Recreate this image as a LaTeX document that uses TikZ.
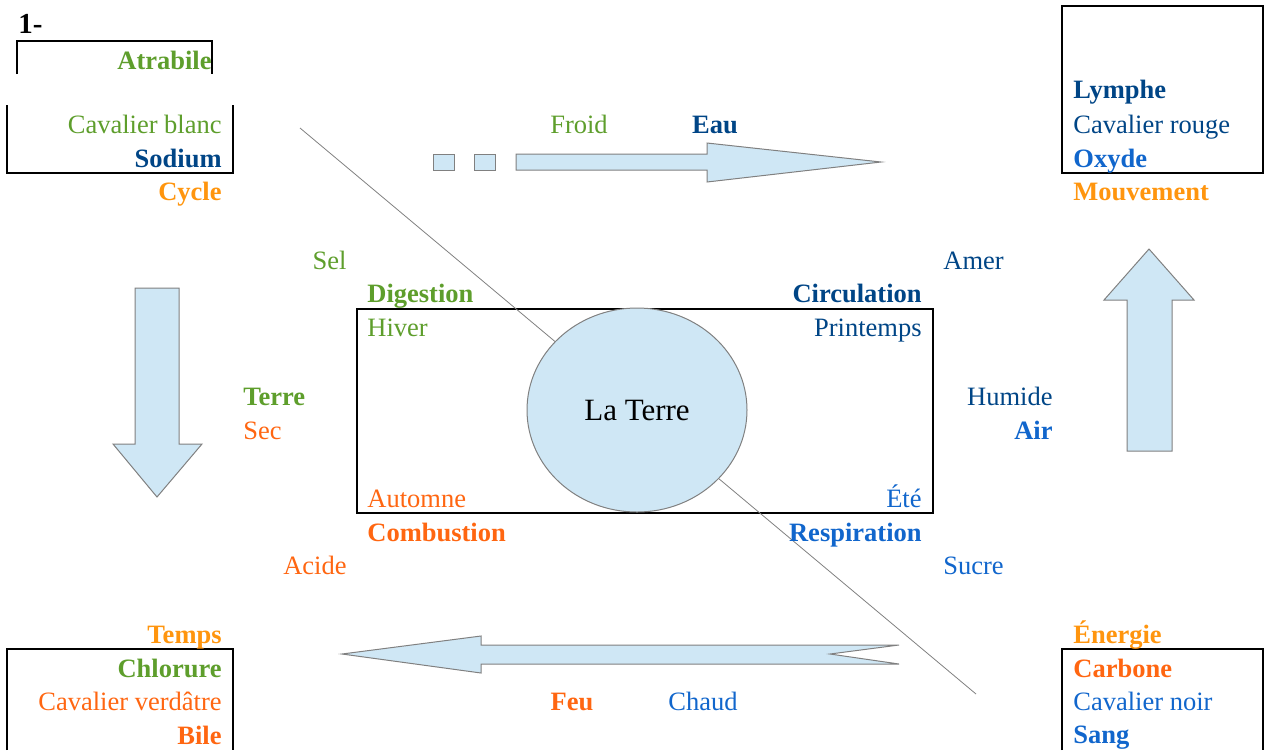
\documentclass[tikz,border=0pt]{standalone}
\usepackage{fontspec}
\setmainfont{Liberation Serif}
\usepackage{tikz}
\usetikzlibrary{shapes.geometric}

\definecolor{vert}{RGB}{94,158,44}
\definecolor{bleufonce}{RGB}{0,69,134}
\definecolor{bleu}{RGB}{17,102,204}
\definecolor{jaunorange}{RGB}{255,149,14}
\definecolor{rouge}{RGB}{255,102,17}
\definecolor{remplir}{RGB}{207,231,245}

\tikzset{
  txt/.style={inner sep=0pt, font=\fontsize{13.25}{16}\selectfont},
  gras/.style={txt, font=\fontsize{13.25}{16}\selectfont\bfseries},
  fleche/.style={fill=remplir, draw=gray, line width=0.5pt, line join=miter},
  cadre/.style={draw=black, line width=1pt}
}

\begin{document}
\begin{tikzpicture}[x=0.5pt, y=-0.5pt]
    \useasboundingbox (0,0) rectangle (1269,751);

    %Cadres
    \draw[cadre] (17,74) -- (17,41) -- (212,41) -- (212,74);
    \draw[cadre] (7,105) -- (7,173) -- (233,173) -- (233,105);
    \draw[cadre] (1062,6) rectangle (1263,173);
    \draw[cadre] (7,750) -- (7,649) -- (233,649) -- (233,750);
    \draw[cadre] (1062,750) -- (1062,649) -- (1263,649) -- (1263,750);
    \draw[cadre] (357,309) rectangle (933,513);

    %Fleches
    \draw[fleche] (433,154) rectangle (454,170);
    \draw[fleche] (474,154) rectangle (495,170);
    \draw[fleche] (516,154) -- (707,154) -- (707,143) -- (881,162) -- (707,182) -- (707,170) -- (516,170) -- cycle;
    \draw[fleche] (899,645) -- (481,645) -- (481,636) -- (342,654) -- (481,673) -- (481,664) -- (899,664) -- (830,654) -- cycle;
    \draw[fleche] (135,288) -- (179,288) -- (179,444) -- (202,444) -- (157,497) -- (113,444) -- (135,444) -- cycle;
    \draw[fleche] (1127,451) -- (1127,300) -- (1104,300) -- (1149,249) -- (1194,300) -- (1172,300) -- (1172,451) -- cycle;

    %Diagonale et Terre
    \coordinate (haut) at (300,128);
    \coordinate (bas) at (976,694);
    \draw[gray, line width=0.4pt] (haut) -- (bas);
    \node[ellipse, fill=remplir, draw=gray, line width=0.5pt, minimum width=110pt, minimum height=102pt, inner sep=0pt,
          font=\fontsize{15.5}{18}\selectfont] (terre) at (637,410) {La Terre};

    %Haut gauche
    \begin{scope}[every node/.style={anchor=base east}]
      \node[gras, anchor=base west, font=\fontsize{14.5}{17}\selectfont\bfseries] (num) at (18,33) {1-};
      \node[gras, text=vert] (atrabile) at (212,69) {Atrabile};
      \node[txt, text=vert] (cavblanc) at (222,133) {Cavalier blanc};
      \node[gras, text=bleufonce] (sodium) at (222,167) {Sodium};
      \node[gras, text=jaunorange] (cycle) at (222,200) {Cycle};
    \end{scope}

    %Haut droite
    \begin{scope}[every node/.style={anchor=base west}]
      \node[gras, text=bleufonce] (lymphe) at (1073,98) {Lymphe};
      \node[txt, text=bleufonce] (cavrouge) at (1073,133) {Cavalier rouge};
      \node[gras, text=bleu] (oxyde) at (1073,167) {Oxyde};
      \node[gras, text=jaunorange] (mouvement) at (1073,200) {Mouvement};
    \end{scope}

    %Bas gauche
    \begin{scope}[every node/.style={anchor=base east}]
      \node[gras, text=jaunorange] (temps) at (222,643) {Temps};
      \node[gras, text=vert] (chlorure) at (222,677) {Chlorure};
      \node[txt, text=rouge] (cavverd) at (222,710) {Cavalier verdâtre};
      \node[gras, text=rouge] (bile) at (222,744) {Bile};
    \end{scope}

    %Bas droite
    \begin{scope}[every node/.style={anchor=base west}]
      \node[gras, text=jaunorange] (energie) at (1073,643) {Énergie};
      \node[gras, text=rouge] (carbone) at (1073,677) {Carbone};
      \node[txt, text=bleu] (cavnoir) at (1073,710) {Cavalier noir};
      \node[gras, text=bleu] (sang) at (1073,743) {Sang};
    \end{scope}

    %Centre gauche
    \begin{scope}[every node/.style={anchor=base west}]
      \node[gras, text=vert] (digestion) at (367,302) {Digestion};
      \node[txt, text=vert] (hiver) at (367,336) {Hiver};
      \node[txt, text=rouge] (automne) at (367,507) {Automne};
      \node[gras, text=rouge] (combustion) at (367,541) {Combustion};
      \node[gras, text=vert] (terrelbl) at (243,405) {Terre};
      \node[txt, text=rouge] (sec) at (243,439) {Sec};
      \node[txt, text=bleufonce] (amer) at (943,269) {Amer};
      \node[txt, text=bleu] (sucre) at (943,574) {Sucre};
    \end{scope}

    %Centre droite
    \begin{scope}[every node/.style={anchor=base east}]
      \node[gras, text=bleufonce] (circulation) at (922,302) {Circulation};
      \node[txt, text=bleufonce] (printemps) at (922,336) {Printemps};
      \node[txt, text=bleu] (ete) at (922,507) {Été};
      \node[gras, text=bleu] (respiration) at (922,541) {Respiration};
      \node[txt, text=vert] (sel) at (347,269) {Sel};
      \node[txt, text=rouge] (acide) at (347,574) {Acide};
      \node[txt, text=bleufonce] (humide) at (1053,405) {Humide};
      \node[gras, text=bleu] (air) at (1053,439) {Air};
    \end{scope}

    %Fleches haut et bas
    \begin{scope}[every node/.style={anchor=base}]
      \node[txt, text=vert] (froid) at (579,133) {Froid};
      \node[gras, text=bleufonce] (eau) at (715,133) {Eau};
      \node[gras, text=rouge] (feu) at (572,710) {Feu};
      \node[txt, text=bleu] (chaud) at (703,710) {Chaud};
    \end{scope}
  \end{tikzpicture}
\end{document}
